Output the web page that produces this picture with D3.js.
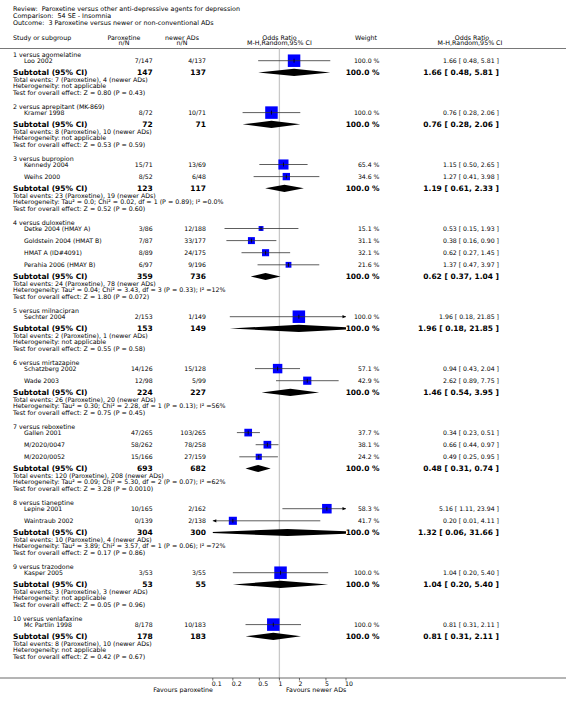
<!DOCTYPE html>
<html><head><meta charset="utf-8">
<script src="https://cdn.jsdelivr.net/npm/d3@7"></script>
<style>
body{margin:0;background:#fff}
svg text{font-family:"DejaVu Sans",Verdana,sans-serif;white-space:pre;fill:#000}
</style>
</head><body>
<svg id="chart" width="566" height="708"></svg>
<script>
// ---------- data ----------
const titleLines = [
  "Review:  Paroxetine versus other anti-depressive agents for depression",
  "Comparison:  54 SE - Insomnia",
  "Outcome:  3 Paroxetine versus newer or non-conventional ADs"
];
const groupNames = ["1 versus agomelatine","2 versus aprepitant (MK-869)","3 versus bupropion","4 versus duloxetine","5 versus milnacipran","6 versus mirtazapine","7 versus reboxetine","8 versus tianeptine","9 versus trazodone","10 versus venlafaxine"];

const studyGroup = [0,1,2,2,3,3,3,3,4,5,5,6,6,6,7,7,8,9];
const studyNames = ["Loo 2002","Kramer 1998","Kennedy 2004","Weihs 2000","Detke 2004 (HMAY A)","Goldstein 2004 (HMAT B)","HMAT A (ID#4091)","Perahia 2006 (HMAY B)","Sechter 2004","Schatzberg 2002","Wade 2003","Gallen 2001","M/2020/0047","M/2020/0052","Lepine 2001","Waintraub 2002","Kasper 2005","Mc Partlin 1998"];
const paroxEvents = [7,8,15,8,3,7,8,6,2,14,12,47,58,15,10,0,3,8];
const paroxTotal  = [147,72,71,52,86,87,89,97,153,126,98,265,262,166,165,139,53,178];
const newerEvents = [4,10,13,6,12,33,24,9,1,15,5,103,78,27,2,2,3,10];
const newerTotal  = [137,71,69,48,188,177,175,196,149,128,99,265,258,159,162,138,55,183];
const studyWeight = [100.0,100.0,65.4,34.6,15.1,31.1,32.1,21.6,100.0,57.1,42.9,37.7,38.1,24.2,58.3,41.7,100.0,100.0];
const studyOR     = [1.66,0.76,1.15,1.27,0.53,0.38,0.62,1.37,1.96,0.94,2.62,0.34,0.66,0.49,5.16,0.20,1.04,0.81];
const studyLow    = [0.48,0.28,0.50,0.41,0.15,0.16,0.27,0.47,0.18,0.43,0.89,0.23,0.44,0.25,1.11,0.01,0.20,0.31];
const studyHigh   = [5.81,2.06,2.65,3.98,1.93,0.90,1.45,3.97,21.85,2.04,7.75,0.51,0.97,0.95,23.94,4.11,5.40,2.11];

const subParoxN  = [147,72,123,359,153,224,693,304,53,178];
const subNewerN  = [137,71,117,736,149,227,682,300,55,183];
const subOR      = [1.66,0.76,1.19,0.62,1.96,1.46,0.48,1.32,1.04,0.81];
const subLow     = [0.48,0.28,0.61,0.37,0.18,0.54,0.31,0.06,0.20,0.31];
const subHigh    = [5.81,2.06,2.33,1.04,21.85,3.95,0.74,31.66,5.40,2.11];
const subParoxEv = [7,8,23,24,2,26,120,10,3,8];
const subNewerEv = [4,10,19,78,1,20,208,4,3,10];
const hetTexts = [
  "Heterogeneity: not applicable",
  "Heterogeneity: not applicable",
  "Heterogeneity: Tau\u00B2 = 0.0; Chi\u00B2 = 0.02, df = 1 (P = 0.89); I\u00B2 =0.0%",
  "Heterogeneity: Tau\u00B2 = 0.04; Chi\u00B2 = 3.43, df = 3 (P = 0.33); I\u00B2 =12%",
  "Heterogeneity: not applicable",
  "Heterogeneity: Tau\u00B2 = 0.30; Chi\u00B2 = 2.28, df = 1 (P = 0.13); I\u00B2 =56%",
  "Heterogeneity: Tau\u00B2 = 0.09; Chi\u00B2 = 5.30, df = 2 (P = 0.07); I\u00B2 =62%",
  "Heterogeneity: Tau\u00B2 = 3.89; Chi\u00B2 = 3.57, df = 1 (P = 0.06); I\u00B2 =72%",
  "Heterogeneity: not applicable",
  "Heterogeneity: not applicable"
];
const testTexts = [
  "Test for overall effect: Z = 0.80 (P = 0.43)",
  "Test for overall effect: Z = 0.53 (P = 0.59)",
  "Test for overall effect: Z = 0.52 (P = 0.60)",
  "Test for overall effect: Z = 1.80 (P = 0.072)",
  "Test for overall effect: Z = 0.55 (P = 0.58)",
  "Test for overall effect: Z = 0.75 (P = 0.45)",
  "Test for overall effect: Z = 3.28 (P = 0.0010)",
  "Test for overall effect: Z = 0.17 (P = 0.86)",
  "Test for overall effect: Z = 0.05 (P = 0.96)",
  "Test for overall effect: Z = 0.42 (P = 0.67)"
];
const axisTicks = [0.1,0.2,0.5,1,2,5,10];
const axisTickLabels = ["0.1","0.2","0.5","1","2","5","10"];
const leftLabel = "Favours paroxetine";
const rightLabel = "Favours newer ADs";

// ---------- layout ----------
const svg = d3.select("#chart");
const W = 566;
const xGroup = 13, xStudy = 24, xParox = 152.7, xNewer = 206, xWeight = 379.5, xOR = 499;
const x = d3.scaleLog().domain([0.1,10]).range([212.8,346]);
const axisY = 678;
const fsSmall = 6.2, fsNote = 6.3, fsBold = 7.5;

function txt(xp, yp, s, opts={}) {
  return svg.append("text").attr("x", xp).attr("y", yp).attr("dy","0.35em")
    .attr("font-size", opts.size || fsSmall)
    .attr("font-weight", opts.bold ? "bold" : "normal")
    .attr("text-anchor", opts.anchor || "start")
    .text(s);
}

// titles
titleLines.forEach((t,i)=>txt(xGroup, 9 + i*6.8, t, {size:6.4}));

// header
const h1 = 37.3, h2 = 43;
txt(xGroup, h1, "Study or subgroup", {size:6.3});
txt(124, h1, "Paroxetine", {size:6.3, anchor:"middle"});
txt(124, h2, "n/N", {size:6.3, anchor:"middle"});
txt(182, h1, "newer ADs", {size:6.3, anchor:"middle"});
txt(182, h2, "n/N", {size:6.3, anchor:"middle"});
txt(x(1), h1, "Odds Ratio", {size:6.3, anchor:"middle"});
txt(x(1), h2, "M-H,Random,95% CI", {size:6.3, anchor:"middle"});
txt(377, h1, "Weight", {size:6.3, anchor:"end"});
txt(472, h1, "Odds Ratio", {size:6.3, anchor:"middle"});
txt(470, h2, "M-H,Random,95% CI", {size:6.3, anchor:"middle"});
svg.append("line").attr("x1",0).attr("x2",W).attr("y1",48.5).attr("y2",48.5)
  .attr("stroke","#555").attr("stroke-width",0.8);

// null line
svg.append("line").attr("x1",x(1)).attr("x2",x(1)).attr("y1",48.5).attr("y2",axisY)
  .attr("stroke","#c8c8c8").attr("stroke-width",1.3);

// clip for diamonds
svg.append("clipPath").attr("id","plotclip").append("rect")
  .attr("x", x(0.1)).attr("y", 0).attr("width", x(10)-x(0.1)).attr("height", 708);

const fmt2 = d3.format(".2f");
function ciText(o,l,h){ return fmt2(o) + " [ " + fmt2(l) + ", " + fmt2(h) + " ]"; }

let y = 54.7;
groupNames.forEach((gName, g) => {
  txt(xGroup, y, gName, {size:fsNote});
  y += 6;
  const idx = studyGroup.map((gg,i)=>gg===g?i:-1).filter(i=>i>=0);
  idx.forEach((i, k) => {
    txt(xStudy, y, studyNames[i]);
    txt(xParox, y, paroxEvents[i] + "/" + paroxTotal[i], {anchor:"end"});
    txt(xNewer, y, newerEvents[i] + "/" + newerTotal[i], {anchor:"end"});
    txt(xWeight, y, studyWeight[i].toFixed(1) + " %", {anchor:"end"});
    txt(xOR, y, ciText(studyOR[i], studyLow[i], studyHigh[i]), {anchor:"end"});
    const side = 12.5 * Math.sqrt(studyWeight[i]/100);
    const cx = x(studyOR[i]);
    svg.append("rect").attr("x", cx - side/2).attr("y", y - side/2)
      .attr("width", side).attr("height", side).attr("fill", "#0000ff");
    const lo = Math.max(studyLow[i], 0.1), hi = Math.min(studyHigh[i], 10);
    svg.append("line").attr("x1", x(lo)).attr("x2", x(hi)).attr("y1", y).attr("y2", y)
      .attr("stroke","#333").attr("stroke-width",0.8);
    svg.append("line").attr("x1", cx).attr("x2", cx).attr("y1", y-2).attr("y2", y+2)
      .attr("stroke","#000").attr("stroke-width",0.8);
    if (studyHigh[i] > 10) {
      const ax = x(10);
      svg.append("path").attr("d", `M${ax},${y} L${ax-3.5},${y-1.6} L${ax-3.5},${y+1.6} Z`).attr("fill","#000");
    }
    if (studyLow[i] < 0.1) {
      const ax = x(0.1);
      svg.append("path").attr("d", `M${ax},${y} L${ax+3.5},${y-1.6} L${ax+3.5},${y+1.6} Z`).attr("fill","#000");
    }
    if (k < idx.length-1) y += 12.1;
  });
  y += 11.7;
  txt(xGroup, y, "Subtotal (95% CI)", {bold:true, size:fsBold});
  txt(xParox, y, String(subParoxN[g]), {bold:true, size:fsBold, anchor:"end"});
  txt(xNewer, y, String(subNewerN[g]), {bold:true, size:fsBold, anchor:"end"});
  txt(xWeight, y, "100.0 %", {bold:true, size:fsBold, anchor:"end"});
  txt(xOR, y, ciText(subOR[g], subLow[g], subHigh[g]), {bold:true, size:fsBold, anchor:"end"});
  const dl = x(subLow[g]), dc = x(subOR[g]), dh = x(subHigh[g]);
  svg.append("path").attr("clip-path","url(#plotclip)")
    .attr("d", `M${dl},${y} L${dc},${y-3.6} L${dh},${y} L${dc},${y+3.6} Z`).attr("fill","#000");
  y += 7;
  txt(xGroup, y, "Total events: " + subParoxEv[g] + " (Paroxetine), " + subNewerEv[g] + " (newer ADs)", {size:fsNote});
  y += 6.7;
  txt(xGroup, y, hetTexts[g], {size:fsNote});
  y += 6.7;
  txt(xGroup, y, testTexts[g], {size:fsNote});
  y += 13.8;
});

// axis
svg.append("line").attr("x1",0).attr("x2",W).attr("y1",axisY).attr("y2",axisY)
  .attr("stroke","#444").attr("stroke-width",0.8);
axisTicks.forEach((t,i)=>{
  svg.append("line").attr("x1",x(t)).attr("x2",x(t)).attr("y1",axisY).attr("y2",axisY+2.5)
    .attr("stroke","#444").attr("stroke-width",0.8);
  txt(x(t)-1, axisY+5.5, axisTickLabels[i], {size:6.2});
});
txt(213, axisY+12, leftLabel, {size:6.3, anchor:"end"});
txt(286, axisY+12, rightLabel, {size:6.3});
</script>
</body></html>
